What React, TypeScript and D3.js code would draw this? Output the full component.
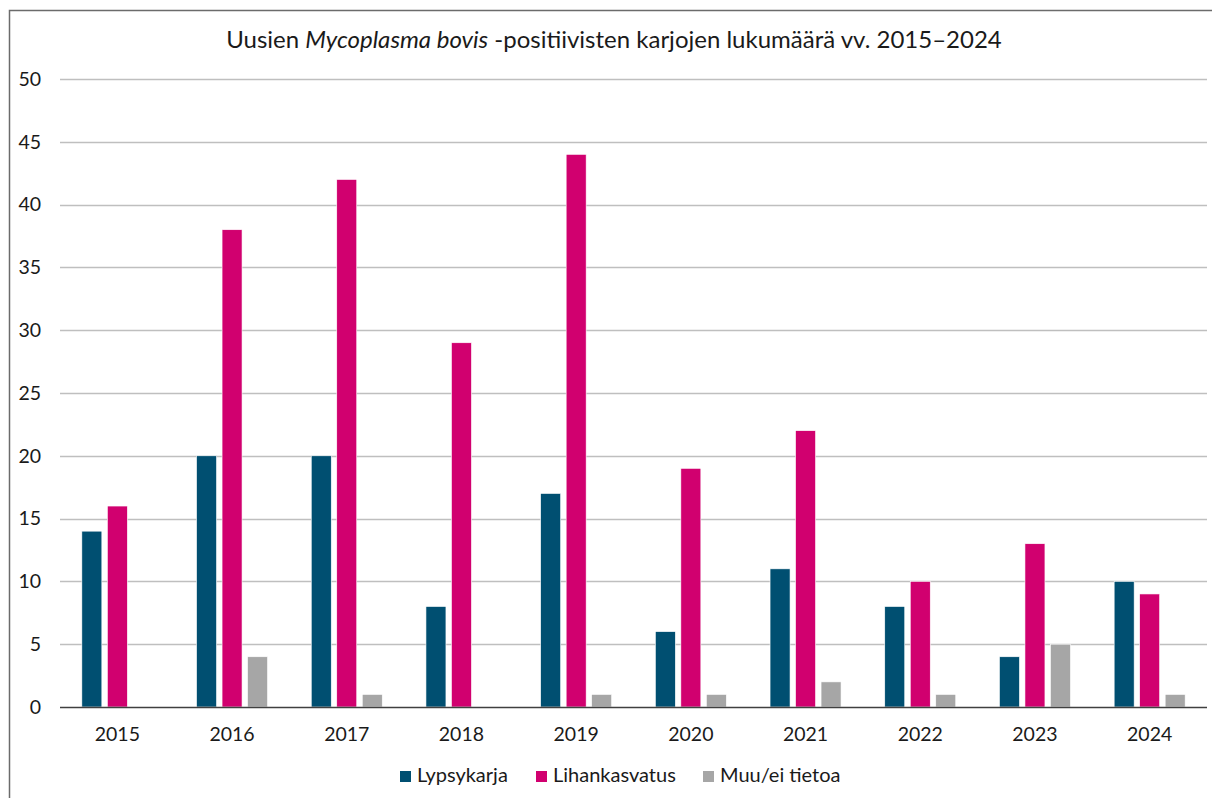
import React, { useEffect, useRef } from 'react';
import * as d3 from 'd3';

const years = ['2015', '2016', '2017', '2018', '2019', '2020', '2021', '2022', '2023', '2024'];
const seriesNames = ['Lypsykarja', 'Lihankasvatus', 'Muu/ei tietoa'];
const seriesColors = ['#004f71', '#d1006f', '#a6a6a6'];
const lypsykarja = [14, 20, 20, 8, 17, 6, 11, 8, 4, 10];
const lihankasvatus = [16, 38, 42, 29, 44, 19, 22, 10, 13, 9];
const muu = [0, 4, 1, 0, 1, 1, 2, 1, 5, 1];
const yTicks = [0, 5, 10, 15, 20, 25, 30, 35, 40, 45, 50];

const W = 1212;
const H = 798;
const FONT = 'Lato, "Open Sans", sans-serif';

export default function App() {
  const svgRef = useRef<SVGSVGElement>(null);

  useEffect(() => {
    if (!svgRef.current) return;
    const svg = d3.select(svgRef.current);
    svg.selectAll('*').remove();

    const left = 60, right = 1207, top = 79, bottom = 707;

    // frame (only top and left edges are visible in the original)
    svg.append('path')
      .attr('d', `M9.5,${H} V10.5 H${W}`)
      .attr('fill', 'none')
      .attr('stroke', '#6b6b6b')
      .attr('stroke-width', 1.5);

    // title
    const title = svg.append('text')
      .attr('x', 614)
      .attr('y', 48)
      .attr('text-anchor', 'middle')
      .style('font-family', FONT)
      .style('font-size', '24px')
      .attr('fill', '#1a1a1a');
    title.append('tspan').text('Uusien ');
    title.append('tspan').style('font-style', 'italic').text('Mycoplasma bovis');
    title.append('tspan').text(' -positiivisten karjojen lukumäärä vv. 2015–2024');

    const y = d3.scaleLinear().domain([0, 50]).range([bottom, top]);
    const x0 = d3.scaleBand<string>().domain(years).range([left, right]);
    const bw = x0.bandwidth();
    const x1 = d3.scaleBand<string>()
      .domain(seriesNames)
      .range([bw / 2 - 35.5, bw / 2 + 35.5])
      .paddingInner(0.216);

    // gridlines
    svg.append('g')
      .selectAll('line')
      .data(yTicks.filter(t => t > 0))
      .enter()
      .append('line')
      .attr('x1', left)
      .attr('x2', right)
      .attr('y1', d => Math.round(y(d)) + 0.5)
      .attr('y2', d => Math.round(y(d)) + 0.5)
      .attr('stroke', '#bfbfbf')
      .attr('stroke-width', 1.3);

    // y tick labels
    svg.append('g')
      .selectAll('text')
      .data(yTicks)
      .enter()
      .append('text')
      .attr('x', 41)
      .attr('y', d => y(d))
      .attr('dy', '0.35em')
      .attr('text-anchor', 'end')
      .style('font-family', FONT)
      .style('font-size', '19.5px')
      .attr('fill', '#1a1a1a')
      .text(d => d);

    // bars
    const rows = years.map((yr, i) => ({
      year: yr,
      values: [lypsykarja[i], lihankasvatus[i], muu[i]],
    }));

    const groups = svg.append('g')
      .selectAll('g')
      .data(rows)
      .enter()
      .append('g')
      .attr('transform', d => `translate(${x0(d.year)},0)`);

    groups.selectAll('rect')
      .data(d => d.values.map((v, k) => ({ v, k })).filter(e => e.v > 0))
      .enter()
      .append('rect')
      .attr('x', d => x1(seriesNames[d.k]) as number)
      .attr('width', x1.bandwidth())
      .attr('y', d => y(d.v))
      .attr('height', d => bottom - y(d.v))
      .attr('fill', d => seriesColors[d.k])
      .attr('stroke', '#ffffff')
      .attr('stroke-width', 0.6);

    // x axis line
    svg.append('line')
      .attr('x1', left)
      .attr('x2', right)
      .attr('y1', bottom + 0.5)
      .attr('y2', bottom + 0.5)
      .attr('stroke', '#404040')
      .attr('stroke-width', 1.5);

    // x labels
    svg.append('g')
      .selectAll('text')
      .data(years)
      .enter()
      .append('text')
      .attr('x', d => (x0(d) as number) + bw / 2)
      .attr('y', 741)
      .attr('text-anchor', 'middle')
      .style('font-family', FONT)
      .style('font-size', '19.5px')
      .attr('fill', '#1a1a1a')
      .text(d => d);

    // legend
    const legend = svg.append('g');
    const xs = [400, 536, 703];
    seriesNames.forEach((name, i) => {
      const item = legend.append('g').attr('transform', `translate(${xs[i]}, 771)`);
      item.append('rect')
        .attr('width', 11)
        .attr('height', 11)
        .attr('fill', seriesColors[i]);
      item.append('text')
        .attr('x', 17)
        .attr('y', 11)
        .style('font-family', FONT)
        .style('font-size', '20px')
        .attr('fill', '#1a1a1a')
        .text(name);
    });
  }, []);

  return (
    <svg
      ref={svgRef}
      width={W}
      height={H}
      style={{ position: 'absolute', left: 0, top: 0, background: '#fff' }}
    />
  );
}
